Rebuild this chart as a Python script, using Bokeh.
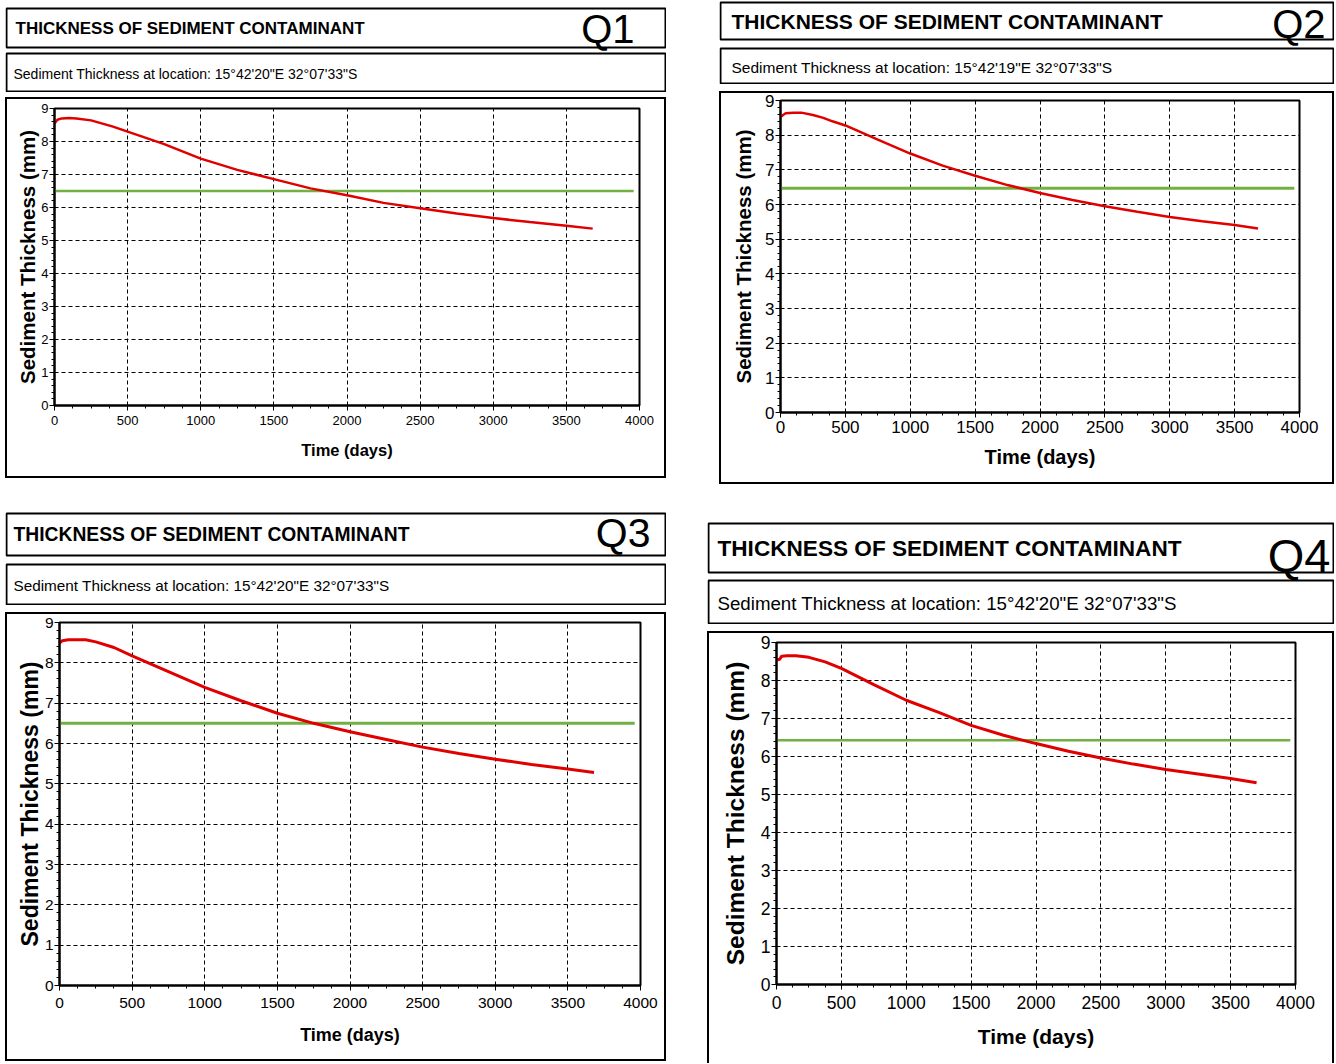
from bokeh.plotting import figure
from bokeh.models import Range1d, Label, BoxAnnotation, FixedTicker, Spacer
from bokeh.layouts import column, row
from bokeh.embed import file_html
from bokeh.resources import INLINE

# ---------------- data ----------------
title_text = "THICKNESS OF SEDIMENT CONTAMINANT"
subtitle_q1 = "Sediment Thickness at location: 15°42'20\"E 32°07'33\"S"
subtitle_q2 = "Sediment Thickness at location: 15°42'19\"E 32°07'33\"S"
subtitle_q3 = "Sediment Thickness at location: 15°42'20\"E 32°07'33\"S"
subtitle_q4 = "Sediment Thickness at location: 15°42'20\"E 32°07'33\"S"
tags = ["Q1", "Q2", "Q3", "Q4"]
x_label = "Time (days)"
y_label = "Sediment Thickness (mm)"
x_ticks = [0, 500, 1000, 1500, 2000, 2500, 3000, 3500, 4000]
x_minor = [125 * i for i in range(33)]
y_ticks = [0, 1, 2, 3, 4, 5, 6, 7, 8, 9]
y_minor = [round(0.2 * i, 1) for i in range(46)]

days_q1 = [0, 20, 50, 100, 150, 250, 400, 500, 750, 1000, 1250, 1500, 1750, 2000, 2250, 2500, 2750, 3000, 3250, 3500, 3680]
thick_q1 = [8.55, 8.66, 8.70, 8.71, 8.70, 8.64, 8.45, 8.30, 7.92, 7.48, 7.14, 6.86, 6.58, 6.37, 6.14, 5.98, 5.82, 5.68, 5.56, 5.45, 5.36]

days_q2 = [0, 20, 40, 100, 160, 250, 330, 400, 500, 750, 1000, 1250, 1500, 1750, 2000, 2250, 2500, 2750, 3000, 3250, 3500, 3680]
thick_q2 = [8.52, 8.58, 8.63, 8.65, 8.65, 8.58, 8.50, 8.40, 8.28, 7.87, 7.47, 7.12, 6.83, 6.56, 6.33, 6.13, 5.95, 5.79, 5.64, 5.52, 5.41, 5.31]

days_q3 = [0, 20, 60, 120, 180, 250, 375, 500, 750, 1000, 1250, 1500, 1750, 2000, 2250, 2500, 2750, 3000, 3250, 3500, 3680]
thick_q3 = [8.49, 8.55, 8.57, 8.57, 8.57, 8.52, 8.38, 8.17, 7.78, 7.39, 7.06, 6.75, 6.50, 6.29, 6.10, 5.91, 5.75, 5.61, 5.48, 5.37, 5.28]

days_q4 = [0, 25, 40, 80, 150, 250, 375, 500, 750, 1000, 1250, 1500, 1750, 2000, 2250, 2500, 2750, 3000, 3250, 3500, 3700]
thick_q4 = [8.54, 8.56, 8.64, 8.65, 8.65, 8.61, 8.49, 8.32, 7.89, 7.48, 7.16, 6.82, 6.56, 6.34, 6.14, 5.96, 5.80, 5.66, 5.54, 5.42, 5.31]

threshold_days = [0, 3960]
threshold_q1 = [6.50, 6.50]
threshold_q2 = [6.47, 6.47]
threshold_q3 = [6.50, 6.50]
threshold_q4 = [6.43, 6.43]

# ---------------- styles ----------------
FONT = "Liberation Sans"
RED = "#e00000"
GREEN = "#72b043"


def header(w, H, title_box, sub_box, title_size, sub_size, title_x, sub_x, sub_text,
           tag, tag_size, tag_right, tag_mid):
    """Title box + subtitle box in one canvas; boxes given as (top, bottom) pixel rows."""
    p = figure(width=w, height=H, x_range=Range1d(0, w), y_range=Range1d(0, H),
               x_axis_type=None, y_axis_type=None, toolbar_location=None,
               output_backend="svg", min_border=0, outline_line_color=None,
               frame_align=False)
    for (t, b) in (title_box, sub_box):
        p.add_layout(BoxAnnotation(left=1, right=w - 1, top=H - (t + 1), bottom=H - (b - 1),
                                   fill_alpha=0, line_color="black", line_alpha=1,
                                   line_width=2))
    p.add_layout(Label(x=title_x, y=H - (title_box[0] + title_box[1]) / 2, text=title_text,
                       text_baseline="middle", text_align="left", text_font=FONT,
                       text_font_size=f"{title_size}px", text_font_style="bold",
                       text_color="black"))
    p.add_layout(Label(x=sub_x, y=H - ((sub_box[0] + sub_box[1]) / 2 + 1), text=sub_text,
                       text_baseline="middle", text_align="left", text_font=FONT,
                       text_font_size=f"{sub_size}px", text_color="black"))
    p.add_layout(Label(x=tag_right, y=H - tag_mid, text=tag, text_baseline="middle",
                       text_align="right", text_font=FONT,
                       text_font_size=f"{tag_size}px", text_color="black"))
    return p


def chart(w, h, borders, days, vals, thr, tick_size, ylab_size, xlab_size,
          x_std, y_std, ylab_std, xlab_std, red_w, green_w, open_bottom=False):
    left, right, top, bottom = borders
    p = figure(width=w, height=h, x_range=Range1d(0, 4000), y_range=Range1d(0, 9),
               toolbar_location=None, output_backend="svg",
               min_border_left=left, min_border_right=right,
               min_border_top=top, min_border_bottom=bottom,
               x_axis_label=x_label, y_axis_label=y_label, frame_align=False)
    p.outline_line_color = "black"
    p.outline_line_width = 2
    p.xaxis.ticker = FixedTicker(ticks=x_ticks, minor_ticks=x_minor)
    p.yaxis.ticker = FixedTicker(ticks=y_ticks, minor_ticks=y_minor)
    p.grid.grid_line_color = "black"
    p.grid.grid_line_dash = "4 3"
    p.grid.grid_line_width = 1
    for ax in (p.xaxis, p.yaxis):
        ax.axis_line_width = 2
        ax.axis_line_color = "black"
        ax.major_tick_line_color = "black"
        ax.minor_tick_line_color = "black"
        ax.major_tick_out = 5
        ax.major_tick_in = 0
        ax.minor_tick_out = 3
        ax.minor_tick_in = 0
        ax.major_label_text_font = FONT
        ax.major_label_text_font_size = f"{tick_size}px"
        ax.major_label_text_color = "black"
        ax.axis_label_text_font = FONT
        ax.axis_label_text_font_style = "bold"
        ax.axis_label_text_color = "black"
    p.xaxis.major_label_standoff = x_std
    p.yaxis.major_label_standoff = y_std
    p.xaxis.axis_label_text_font_size = f"{xlab_size}px"
    p.yaxis.axis_label_text_font_size = f"{ylab_size}px"
    p.xaxis.axis_label_standoff = xlab_std
    p.yaxis.axis_label_standoff = ylab_std

    p.line(threshold_days, thr, line_color=GREEN, line_width=green_w)
    p.line(days, vals, line_color=RED, line_width=red_w)

    if open_bottom:
        st = {"border-top": "2px solid black", "border-left": "2px solid black",
              "border-right": "2px solid black"}
    else:
        st = {"border": "2px solid black"}
    return column(p, styles=st)


# ---------------- panels ----------------
q1_head = header(661, 92, (7, 48), (52, 92), 17, 14, 10, 8, subtitle_q1, tags[0], 40, 629, 28.5)
q1_box = chart(657, 377, (47, 25, 9, 71), days_q1, thick_q1, threshold_q1,
               13, 20.5, 16.5, 5, 1, -1, 13, 2.5, 2.5)

q2_head = header(615, 84, (1, 40), (47, 84), 21, 15.5, 12, 12, subtitle_q2, tags[1], 40, 606, 23)
q2_box = chart(611, 389, (59, 33, 7, 70), days_q2, thick_q2, threshold_q2,
               17, 20.5, 20, 3, 1, 7, 10, 2.5, 3)

q3_head = header(661, 99, (6, 50), (57, 99), 19.3, 15.3, 8, 8, subtitle_q3, tags[2], 41, 645, 26)
q3_box = chart(657, 445, (52, 24, 8, 74), days_q3, thick_q3, threshold_q3,
               15.5, 23, 18, 7, 1, -1, 14, 3, 3)

q4_head = header(627, 108, (6, 57), (63, 108), 22.6, 18.7, 10, 10, subtitle_q4, tags[3], 47, 623, 39)
q4_box = chart(623, 430, (67, 37, 9, 79), days_q4, thick_q4, threshold_q4,
               17.5, 24.5, 21, 6, 1, 9, 13, 3, 2.5, open_bottom=True)

left_col = column(q1_head, Spacer(height=5), q1_box, Spacer(height=28),
                  q3_head, Spacer(height=7), q3_box)
q2_col = column(q2_head, Spacer(height=7), q2_box)
right_col = column(row(Spacer(width=12), q2_col), Spacer(height=32),
                   q4_head, Spacer(height=7), q4_box)
root = row(Spacer(width=5), left_col, Spacer(width=41), right_col)

open("out.html", "w").write(file_html(root, INLINE, "Thickness of sediment contaminant"))
